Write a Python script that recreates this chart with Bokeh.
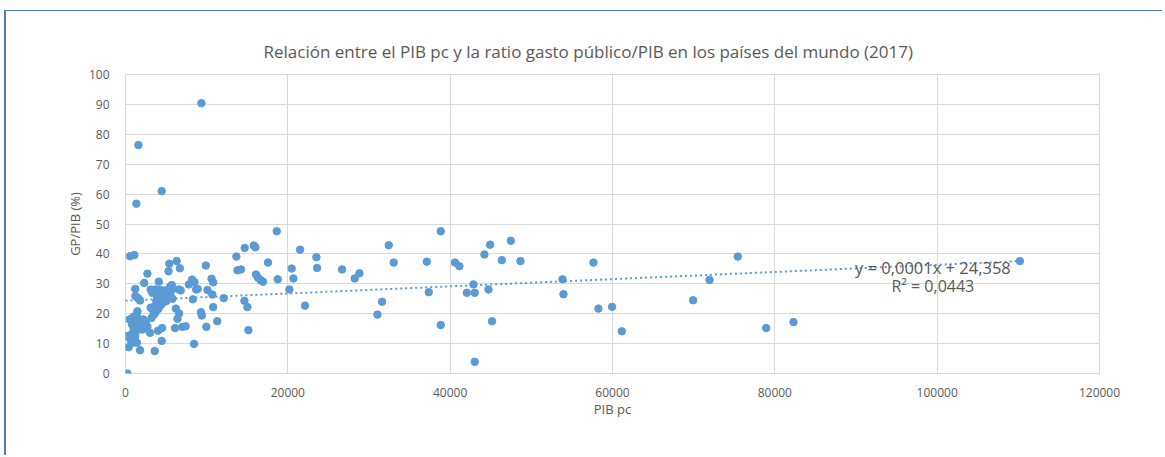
from bokeh.plotting import figure
from bokeh.models import FixedTicker, Label, Title, ColumnDataSource, NumeralTickFormatter
from bokeh.embed import file_html
from bokeh.resources import INLINE

title_text = "Relación entre el PIB pc y la ratio gasto público/PIB en los países del mundo (2017)"
x_label = "PIB pc"
y_label = "GP/PIB (%)"
x_ticks = [0, 20000, 40000, 60000, 80000, 100000, 120000]
y_ticks = [0, 10, 20, 30, 40, 50, 60, 70, 80, 90, 100]

# PIB per cápita (USD) and gasto público / PIB (%) per country
gdp_pc = [
    230, 380, 560, 1090, 1340, 1590, 1200, 1220, 1550, 1800, 1470, 1380,
    200, 600, 700, 1000, 500, 700, 1000, 1300, 800, 1100, 1500,
    1800, 2000, 2300, 2500, 2100, 1700, 2700, 1200, 900, 1400, 1800,
    1900, 2200, 2300, 2700,
    3020, 4000, 4500, 3600, 4460, 4460, 3100, 3300, 3700, 4300, 4600, 4100,
    5200, 5600, 5800, 5500, 5800, 5300, 5400, 6300, 6700, 6600, 6800,
    3100, 3400, 3600, 3900, 4100, 4300, 3500, 3200, 3700,
    4500, 4700, 4300, 3800, 4100, 5000,
    4800, 5000, 5300, 5500, 5700, 3900, 4200, 4400, 4000, 4800,
    6200, 6600, 6400, 6100, 7000, 7400,
    7800, 8200, 8500, 8700, 8900, 8300, 8440,
    9300, 9400, 9350, 9960, 9900,
    10100, 10600, 10800, 10700, 10800, 11300, 12100,
    13660, 14690, 15800, 16000, 13790, 14230, 14650, 15020, 15140,
    16080, 16330, 16660, 16940, 17560, 18630, 18760, 20190, 20480, 20690,
    21510, 22120, 23520, 23600,
    26680, 28240, 28820, 31040, 31610, 32430, 33050, 37120, 37360,
    38840, 38840, 40600, 41140, 42050, 43030, 42870, 43030, 44720, 44220,
    44920, 45160, 46360, 47470, 48660, 53840, 53960, 57660, 58270, 59950,
    61150, 69930, 71950, 75440, 78930, 82300, 110190,
]
gp_pib = [
    0.0, 8.8, 39.2, 39.6, 56.8, 76.4, 28.3, 25.9, 25.2, 24.4, 20.8, 19.6,
    12.5, 11.4, 13.0, 14.7, 18.1, 18.3, 19.0, 18.5, 16.4, 15.6, 16.1,
    16.9, 15.6, 16.4, 16.9, 14.7, 14.7, 15.6, 12.5, 10.3, 10.3, 7.8,
    17.5, 18.1, 30.3, 33.4,
    13.6, 14.3, 15.2, 7.5, 10.9, 61.0, 28.1, 27.0, 28.1, 27.9, 27.2, 30.7,
    26.6, 27.5, 28.3, 25.9, 25.0, 34.2, 36.7, 37.6, 35.2, 28.1, 27.8,
    22.0, 21.2, 22.5, 23.1, 22.0, 23.4, 19.7, 18.6, 20.5,
    24.7, 25.3, 25.0, 24.2, 25.9, 24.2,
    27.8, 25.5, 27.5, 29.0, 29.6, 25.5, 26.5, 23.0, 21.5, 24.0,
    21.7, 20.1, 18.3, 15.2, 15.6, 15.8,
    29.8, 31.4, 30.5, 28.1, 28.3, 24.8, 9.9,
    20.5, 19.4, 90.4, 15.6, 36.1,
    27.9, 31.7, 30.5, 26.4, 22.2, 17.5, 25.2,
    39.1, 42.0, 42.8, 42.2, 34.5, 34.8, 24.3, 22.2, 14.5,
    33.1, 32.0, 31.2, 30.7, 37.1, 47.6, 31.5, 28.1, 35.1, 31.8,
    41.4, 22.7, 38.9, 35.3,
    34.8, 31.8, 33.5, 19.7, 24.0, 42.9, 37.1, 37.4, 27.2,
    47.6, 16.2, 37.1, 35.9, 27.0, 27.0, 29.8, 3.9, 28.1, 39.8,
    43.1, 17.5, 37.9, 44.4, 37.6, 31.5, 26.5, 37.1, 21.7, 22.3,
    14.1, 24.5, 31.3, 39.1, 15.2, 17.2, 37.6,
]

# linear trend shown in the chart
trend_slope = 0.00012
trend_intercept = 24.358
trend_eq = "y = 0,0001x + 24,358"
trend_r2 = "R² = 0,0443"

blue = "#5b9bd5"
grey_text = "#595959"
grid = "#d9d9d9"
font = "Open Sans"

p = figure(width=1158, height=445, output_backend="svg", toolbar_location=None,
           x_range=(0, 120000), y_range=(0, 100))
p.min_border_left = 119
p.min_border_right = 65
p.min_border_top = 63
p.min_border_bottom = 83
p.background_fill_color = "white"
p.border_fill_color = "white"
p.outline_line_color = grid
p.styles = {"position": "relative", "left": "4px", "top": "10px",
            "border-left": "2px solid #4a7ebb", "border-top": "1.5px solid #4a7ebb"}

t = Title(text=title_text, align="left", offset=138, standoff=23,
          text_font=font, text_font_size="17px", text_font_style="normal",
          text_color=grey_text)
p.add_layout(t, "above")

src = ColumnDataSource(dict(x=gdp_pc, y=gp_pib))
p.scatter("x", "y", source=src, size=7.5, color=blue, line_color=blue)

xmax = max(gdp_pc)
p.line([0, xmax], [trend_intercept, trend_intercept + trend_slope * xmax],
       line_color=blue, line_width=2, line_dash="2 3")

p.add_layout(Label(x=99470, y=35.5, text=trend_eq, text_align="center",
                   text_baseline="middle", text_font=font, text_font_size="16.5px",
                   text_color=grey_text))
p.add_layout(Label(x=99470, y=29.1, text=trend_r2, text_align="center",
                   text_baseline="middle", text_font=font, text_font_size="16px",
                   text_color=grey_text))

for ax in (p.xaxis[0], p.yaxis[0]):
    ax.axis_line_color = None
    ax.major_tick_line_color = None
    ax.minor_tick_line_color = None
    ax.major_label_text_font = font
    ax.major_label_text_font_size = "12px"
    ax.major_label_text_color = grey_text
    ax.axis_label_text_font = font
    ax.axis_label_text_font_size = "13px"
    ax.axis_label_text_font_style = "normal"
    ax.axis_label_text_color = grey_text

p.xaxis.ticker = FixedTicker(ticks=x_ticks)
p.yaxis.ticker = FixedTicker(ticks=y_ticks)
p.xaxis.formatter = NumeralTickFormatter(format="0")
p.yaxis.formatter = NumeralTickFormatter(format="0")
p.xaxis.axis_label = x_label
p.yaxis.axis_label = y_label
p.xaxis.major_label_standoff = 8
p.yaxis.major_label_standoff = 10
p.xaxis.axis_label_standoff = 0
p.yaxis.axis_label_standoff = 2

p.xgrid.ticker = FixedTicker(ticks=x_ticks)
p.ygrid.ticker = FixedTicker(ticks=y_ticks)
p.xgrid.grid_line_color = grid
p.ygrid.grid_line_color = grid

open("out.html", "w").write(file_html(p, INLINE))
